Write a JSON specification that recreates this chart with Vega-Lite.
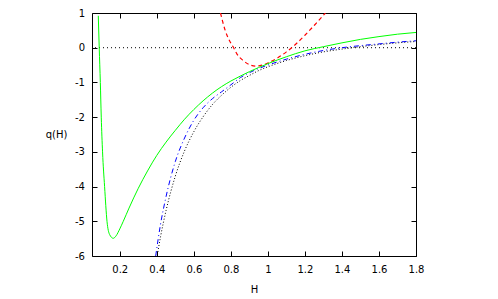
{
  "$schema": "https://vega.github.io/schema/vega-lite/v6.json",
  "width": 324,
  "height": 243,
  "autosize": "none",
  "padding": {"left": 92, "top": 13, "right": 82, "bottom": 43},
  "background": "white",
  "config": {
    "view": {"stroke": "#000", "strokeWidth": 1},
    "font": "DejaVu Sans",
    "axis": {
      "domain": false,
      "grid": false,
      "tickColor": "#000",
      "tickSize": -5,
      "tickWidth": 1,
      "labelFont": "DejaVu Sans",
      "labelFontSize": 10,
      "labelColor": "#000",
      "labelFlush": false,
      "labelOverlap": false,
      "labelExpr": "toString(datum.value)",
      "titleFont": "DejaVu Sans",
      "titleFontSize": 10,
      "titleFontWeight": "normal",
      "titleColor": "#000"
    },
    "axisX": {"labelPadding": 13.4},
    "axisY": {"labelPadding": 12.5}
  },
  "datasets": {
    "zero": [{"q": 0}],
    "green": [
      {"H": 0.084, "q": 0.92}, {"H": 0.089, "q": 0.0}, {"H": 0.095, "q": -1.0}, {"H": 0.1, "q": -2.0},
      {"H": 0.107, "q": -3.0}, {"H": 0.118, "q": -4.0}, {"H": 0.131, "q": -5.0}, {"H": 0.145, "q": -5.38},
      {"H": 0.165, "q": -5.49}, {"H": 0.18, "q": -5.42}, {"H": 0.2, "q": -5.22}, {"H": 0.219, "q": -5.0},
      {"H": 0.25, "q": -4.62}, {"H": 0.3, "q": -4.05}, {"H": 0.35, "q": -3.55}, {"H": 0.4, "q": -3.1},
      {"H": 0.45, "q": -2.72}, {"H": 0.5, "q": -2.38}, {"H": 0.55, "q": -2.06}, {"H": 0.6, "q": -1.78},
      {"H": 0.65, "q": -1.53}, {"H": 0.7, "q": -1.31}, {"H": 0.75, "q": -1.12}, {"H": 0.8, "q": -0.96},
      {"H": 0.85, "q": -0.82}, {"H": 0.9, "q": -0.69}, {"H": 0.95, "q": -0.57}, {"H": 1.0, "q": -0.46},
      {"H": 1.1, "q": -0.26}, {"H": 1.2, "q": -0.09}, {"H": 1.3, "q": 0.03}, {"H": 1.4, "q": 0.14},
      {"H": 1.5, "q": 0.24}, {"H": 1.6, "q": 0.32}, {"H": 1.7, "q": 0.39}, {"H": 1.8, "q": 0.44}
    ],
    "red": [
      {"H": 0.744, "q": 1.0}, {"H": 0.77, "q": 0.49}, {"H": 0.798, "q": 0.15}, {"H": 0.815, "q": 0.0},
      {"H": 0.834, "q": -0.19}, {"H": 0.869, "q": -0.38}, {"H": 0.906, "q": -0.5}, {"H": 0.94, "q": -0.53},
      {"H": 0.97, "q": -0.5}, {"H": 1.0, "q": -0.44}, {"H": 1.05, "q": -0.3}, {"H": 1.1, "q": -0.12},
      {"H": 1.15, "q": 0.1}, {"H": 1.2, "q": 0.36}, {"H": 1.25, "q": 0.64}, {"H": 1.311, "q": 1.0}
    ],
    "blue": [
      {"H": 0.394, "q": -6.0}, {"H": 0.42, "q": -5.09}, {"H": 0.45, "q": -4.29}, {"H": 0.5, "q": -3.28},
      {"H": 0.55, "q": -2.6}, {"H": 0.6, "q": -2.09}, {"H": 0.65, "q": -1.73}, {"H": 0.7, "q": -1.47},
      {"H": 0.75, "q": -1.27}, {"H": 0.8, "q": -1.07}, {"H": 0.852, "q": -0.86}, {"H": 0.9, "q": -0.72},
      {"H": 0.95, "q": -0.6}, {"H": 1.0, "q": -0.5}, {"H": 1.1, "q": -0.33}, {"H": 1.2, "q": -0.19},
      {"H": 1.3, "q": -0.08}, {"H": 1.4, "q": 0.0}, {"H": 1.5, "q": 0.06}, {"H": 1.6, "q": 0.11},
      {"H": 1.7, "q": 0.16}, {"H": 1.8, "q": 0.2}
    ],
    "black": [
      {"H": 0.4, "q": -6.06}, {"H": 0.42, "q": -5.45}, {"H": 0.45, "q": -4.69}, {"H": 0.5, "q": -3.7},
      {"H": 0.55, "q": -2.97}, {"H": 0.6, "q": -2.42}, {"H": 0.65, "q": -1.99}, {"H": 0.7, "q": -1.64},
      {"H": 0.75, "q": -1.37}, {"H": 0.8, "q": -1.14}, {"H": 0.85, "q": -0.95}, {"H": 0.9, "q": -0.8},
      {"H": 0.95, "q": -0.66}, {"H": 1.0, "q": -0.55}, {"H": 1.1, "q": -0.37}, {"H": 1.2, "q": -0.23},
      {"H": 1.3, "q": -0.12}, {"H": 1.4, "q": -0.04}, {"H": 1.5, "q": 0.03}, {"H": 1.6, "q": 0.09},
      {"H": 1.7, "q": 0.14}, {"H": 1.8, "q": 0.18}
    ]
  },
  "layer": [
    {
      "data": {"name": "zero"},
      "mark": {"type": "rule", "color": "#000", "strokeWidth": 1, "strokeDash": [1, 3]},
      "encoding": {
        "y": {"field": "q", "type": "quantitative", "scale": {"domain": [-6, 1], "nice": false, "zero": false}, "axis": null}
      }
    },
    {
      "data": {"name": "black"},
      "mark": {"type": "line", "color": "#000", "strokeWidth": 1, "strokeDash": [1, 2], "interpolate": "monotone", "clip": true},
      "encoding": {
        "x": {"field": "H", "type": "quantitative", "scale": {"domain": [0.05, 1.8], "nice": false, "zero": false},
              "axis": {"orient": "top", "labels": false, "title": null, "values": [0.2, 0.4, 0.6, 0.8, 1.0, 1.2, 1.4, 1.6, 1.8]}},
        "y": {"field": "q", "type": "quantitative", "scale": {"domain": [-6, 1], "nice": false, "zero": false},
              "axis": {"orient": "right", "labels": false, "title": null, "values": [-6, -5, -4, -3, -2, -1, 0, 1]}}
      }
    },
    {
      "data": {"name": "blue"},
      "mark": {"type": "line", "color": "#0000ff", "strokeWidth": 1, "strokeDash": [5, 3, 1, 3], "interpolate": "monotone", "clip": true},
      "encoding": {
        "x": {"field": "H", "type": "quantitative", "axis": null},
        "y": {"field": "q", "type": "quantitative", "axis": null}
      }
    },
    {
      "data": {"name": "red"},
      "mark": {"type": "line", "stroke": "#ff0000", "color": "#ff0000", "strokeWidth": 1.2, "strokeDash": [4, 3], "interpolate": "monotone", "clip": true},
      "encoding": {
        "x": {"field": "H", "type": "quantitative", "axis": null},
        "y": {"field": "q", "type": "quantitative", "axis": null}
      }
    },
    {
      "data": {"name": "green"},
      "mark": {"type": "line", "color": "#00ff00", "strokeWidth": 1, "interpolate": "monotone", "clip": true},
      "encoding": {
        "x": {"field": "H", "type": "quantitative",
              "axis": {"orient": "bottom", "title": "H", "values": [0.2, 0.4, 0.6, 0.8, 1.0, 1.2, 1.4, 1.6, 1.8],
                       "titleY": 33, "titleBaseline": "middle"}},
        "y": {"field": "q", "type": "quantitative",
              "axis": {"orient": "left", "title": "q(H)", "values": [-6, -5, -4, -3, -2, -1, 0, 1],
                       "titleAngle": 0, "titleX": -36, "titleY": 121, "titleAlign": "center", "titleBaseline": "middle"}}
      }
    }
  ],
  "resolve": {"axis": {"x": "independent", "y": "independent"}}
}
